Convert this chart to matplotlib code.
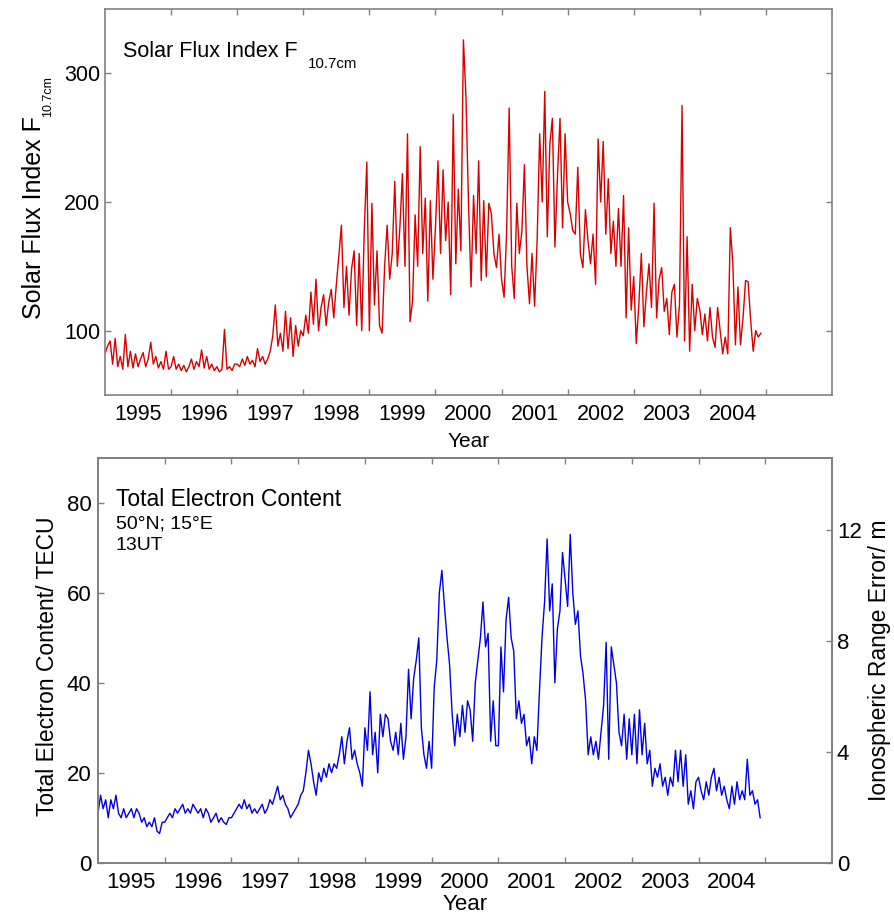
import numpy as np
import matplotlib
matplotlib.use('Agg')
import matplotlib.pyplot as plt
from matplotlib.ticker import FixedLocator, NullFormatter

plt.rcParams['font.family'] = ['Liberation Sans', 'DejaVu Sans']

# samples per year (roughly every 14 days)
per_year = 26
start_year = 1995

# Solar flux index F10.7
f107_1995 = [82, 88, 92, 74, 94, 72, 80, 70, 97, 72, 84, 71, 82, 72, 78, 83, 72, 78, 91, 74, 80, 71, 76, 70, 84, 70]
f107_1996 = [72, 80, 70, 74, 69, 73, 68, 72, 78, 70, 76, 72, 85, 71, 80, 70, 74, 69, 72, 68, 70, 101, 70, 72, 69, 74]
f107_1997 = [74, 72, 78, 73, 80, 74, 77, 72, 86, 76, 80, 74, 78, 84, 96, 120, 88, 98, 84, 115, 86, 110, 80, 104, 88, 100]
f107_1998 = [96, 112, 98, 130, 105, 140, 100, 118, 128, 104, 122, 132, 110, 136, 158, 182, 118, 150, 112, 148, 162, 104, 160, 100, 178, 231]
f107_1999 = [100, 199, 120, 162, 104, 98, 150, 182, 140, 160, 216, 150, 180, 222, 150, 253, 107, 123, 190, 150, 243, 160, 203, 123, 201, 140]
f107_2000 = [180, 232, 160, 225, 170, 200, 128, 268, 152, 210, 162, 326, 282, 199, 134, 205, 160, 232, 139, 201, 142, 199, 191, 160, 149, 175]
f107_2001 = [140, 126, 177, 273, 150, 125, 199, 160, 177, 229, 150, 121, 160, 119, 170, 253, 200, 286, 173, 245, 265, 165, 220, 265, 180, 253]
f107_2002 = [200, 191, 178, 175, 227, 160, 149, 194, 170, 152, 175, 136, 249, 200, 247, 175, 218, 160, 185, 150, 195, 150, 205, 110, 180, 116]
f107_2003 = [142, 90, 120, 160, 103, 130, 152, 118, 199, 110, 140, 149, 115, 125, 97, 130, 136, 95, 120, 275, 92, 173, 84, 136, 100, 125]
f107_2004 = [116, 97, 113, 92, 118, 95, 87, 118, 100, 82, 95, 82, 180, 152, 89, 134, 89, 110, 139, 138, 108, 84, 100, 95, 98]

# Total electron content (TECU), 50N 15E, 13UT
tec_1995 = [11, 15, 12, 14, 10, 14, 12, 15, 11, 10, 12, 10, 11, 12, 10, 12, 11, 9, 10, 8, 9, 8, 10, 7, 6.5, 9]
tec_1996 = [9, 10, 11, 10, 12, 11, 12, 13, 11, 12, 11, 13, 12, 11, 12, 10, 12, 11, 9, 10, 11, 9, 10, 9, 8.5, 10]
tec_1997 = [10, 11, 12, 13, 12, 14, 12, 13, 11, 12, 11, 12, 13, 11, 12, 14, 13, 15, 17, 14, 15, 13, 12, 10, 11, 12]
tec_1998 = [13, 15, 16, 20, 25, 22, 18, 15, 20, 18, 21, 19, 22, 20, 22, 21, 24, 28, 22, 27, 30, 23, 25, 22, 20, 17]
tec_1999 = [30, 25, 38, 24, 29, 20, 33, 28, 33, 32, 27, 25, 29, 24, 31, 23, 28, 43, 32, 41, 45, 50, 30, 24, 21, 27]
tec_2000 = [21, 39, 45, 60, 65, 57, 50, 44, 33, 26, 33, 28, 35, 29, 36, 34, 27, 40, 45, 50, 58, 48, 51, 27, 36, 26]
tec_2001 = [26, 48, 38, 54, 59, 50, 47, 32, 36, 31, 33, 26, 28, 22, 28, 25, 38, 50, 58, 72, 56, 62, 40, 52, 56, 69]
tec_2002 = [63, 57, 73, 60, 53, 56, 46, 42, 36, 24, 28, 24, 27, 23, 29, 35, 49, 23, 48, 44, 40, 29, 26, 33, 23, 32]
tec_2003 = [24, 33, 22, 34, 24, 31, 22, 25, 17, 21, 19, 22, 17, 19, 15, 19, 17, 25, 18, 25, 17, 24, 13, 16, 12, 18]
tec_2004 = [19, 16, 14, 18, 15, 19, 21, 16, 19, 15, 17, 14, 12, 17, 13, 18, 14, 16, 14, 23, 15, 16, 13, 14, 10]

years = list(range(1995, 2005))
tecu_to_m = 0.162  # range error per TECU at L1

f107 = np.concatenate([f107_1995, f107_1996, f107_1997, f107_1998, f107_1999,
                       f107_2000, f107_2001, f107_2002, f107_2003, f107_2004])
tec = np.concatenate([tec_1995, tec_1996, tec_1997, tec_1998, tec_1999,
                      tec_2000, tec_2001, tec_2002, tec_2003, tec_2004])
t = start_year + np.arange(len(f107)) / per_year

W, H = 895, 916
fig = plt.figure(figsize=(W / 100, H / 100), dpi=100)

def px(x, y):
    return x / W, 1 - y / H

def axbox(l, t_, r, b):
    return [l / W, 1 - b / H, (r - l) / W, (b - t_) / H]

grey = '#808080'

def style_years(ax, size, pad):
    ax.set_xlim(1995, 2006)
    ax.xaxis.set_major_locator(FixedLocator([y + 1 for y in years]))
    ax.xaxis.set_major_formatter(NullFormatter())
    ax.xaxis.set_minor_locator(FixedLocator([y + 0.5 for y in years]))
    ax.set_xticklabels([str(y) for y in years], minor=True)
    ax.tick_params(axis='x', which='major', direction='in', top=True, bottom=True,
                   length=4.5, width=1, color=grey)
    ax.tick_params(axis='x', which='minor', length=0, labelsize=size, pad=pad)
    for s in ax.spines.values():
        s.set_color(grey)
        s.set_linewidth(1.2)

# ---- top panel: solar flux ----
ax1 = fig.add_axes(axbox(105, 9, 832, 395))
ax1.plot(t, f107, color='#d80000', lw=1.0)
ax1.set_ylim(50, 350)
ax1.set_yticks([100, 200, 300])
ax1.tick_params(axis='y', direction='in', left=True, right=True, length=4.5,
                width=1, color=grey, labelsize=15.5, pad=3.5)
style_years(ax1, 15.5, 6.5)

fig.text(*px(122.7, 57.3), 'Solar Flux Index F', fontsize=15.5, va='baseline', ha='left')
fig.text(*px(308, 68.3), '10.7cm', fontsize=10.8, va='baseline', ha='left')
fig.text(*px(41.5, 217.5), 'Solar Flux Index F', fontsize=18, rotation=90,
         rotation_mode='anchor', ha='center', va='baseline')
fig.text(*px(51, 97), '10.7cm', fontsize=9, rotation=90,
         rotation_mode='anchor', ha='center', va='baseline')
fig.text(*px(468.5, 446.7), 'Year', fontsize=15, ha='center', va='baseline')

# ---- bottom panel: TEC ----
ax2 = fig.add_axes(axbox(98, 458, 832, 862.7))
ax2.plot(t, tec, color='#0000e6', lw=1.0)
ax2.set_ylim(0, 90)
ax2.set_yticks([0, 20, 40, 60, 80])
ax2.tick_params(axis='y', direction='in', left=True, right=False, length=4.5,
                width=1, color=grey, labelsize=16, pad=4.5)
style_years(ax2, 16, 7)

ax3 = ax2.twinx()
ax3.set_ylim(0, 90 * tecu_to_m)
ax3.set_yticks([0, 4, 8, 12])
ax3.tick_params(axis='y', direction='in', length=4.5, width=1, color=grey,
                labelsize=16, pad=3.5)
for s in ax3.spines.values():
    s.set_color(grey)
    s.set_linewidth(1.2)

fig.text(*px(116, 506), 'Total Electron Content', fontsize=16.5, va='baseline', ha='left')
fig.text(*px(116, 528.3), '50°N; 15°E', fontsize=14, va='baseline', ha='left')
fig.text(*px(116, 550), '13UT', fontsize=14, va='baseline', ha='left')
fig.text(*px(54.5, 665.8), 'Total Electron Content/ TECU', fontsize=16.5, rotation=90,
         rotation_mode='anchor', ha='center', va='baseline')
fig.text(*px(886, 660.5), 'Ionospheric Range Error/ m', fontsize=16.5, rotation=90,
         rotation_mode='anchor', ha='center', va='baseline')
fig.text(*px(465, 910.5), 'Year', fontsize=16, ha='center', va='baseline')

fig.savefig('out.png', dpi=100)
